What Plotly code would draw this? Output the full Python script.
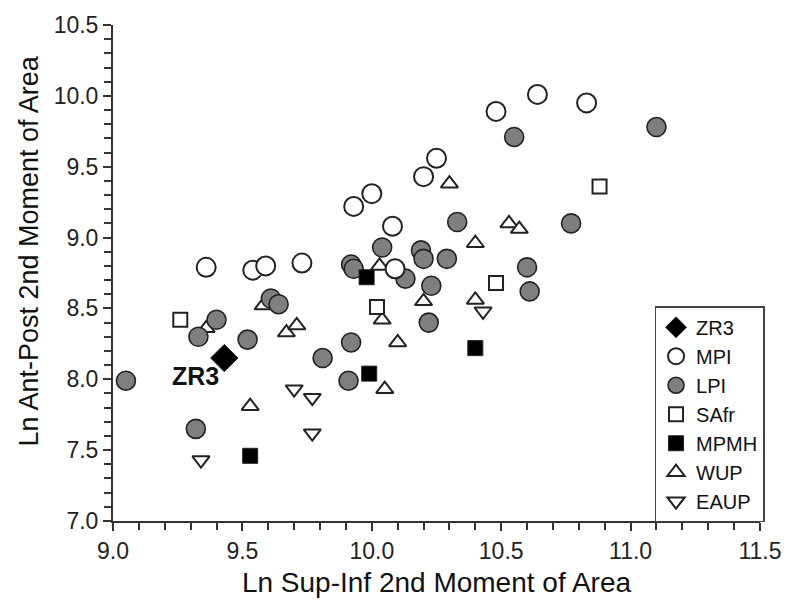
import plotly.graph_objects as go

# ---- data ----
zr3_x = [9.43]
zr3_y = [8.15]

mpi_x = [9.36, 9.54, 9.59, 9.73, 9.93, 10.00, 10.08, 10.09, 10.20, 10.25, 10.48, 10.64, 10.83]
mpi_y = [8.79, 8.77, 8.80, 8.82, 9.22, 9.31, 9.08, 8.78, 9.43, 9.56, 9.89, 10.01, 9.95]

lpi_x = [9.05, 9.32, 9.33, 9.40, 9.52, 9.61, 9.64, 9.81, 9.91, 9.92, 9.92, 9.93, 10.04,
         10.13, 10.19, 10.20, 10.22, 10.23, 10.29, 10.33, 10.55, 10.60, 10.61, 10.77, 11.10]
lpi_y = [7.99, 7.65, 8.30, 8.42, 8.28, 8.57, 8.53, 8.15, 7.99, 8.26, 8.81, 8.78, 8.93,
         8.71, 8.91, 8.85, 8.40, 8.66, 8.85, 9.11, 9.71, 8.79, 8.62, 9.10, 9.78]

safr_x = [9.26, 10.02, 10.48, 10.88]
safr_y = [8.42, 8.51, 8.68, 9.36]

mpmh_x = [9.53, 9.98, 9.99, 10.40]
mpmh_y = [7.46, 8.72, 8.04, 8.22]

wup_x = [9.36, 9.53, 9.58, 9.67, 9.71, 10.03, 10.04, 10.05, 10.10, 10.20, 10.30, 10.40, 10.40, 10.53, 10.57]
wup_y = [8.36, 7.81, 8.52, 8.33, 8.38, 8.80, 8.42, 7.93, 8.26, 8.55, 9.38, 8.96, 8.56, 9.10, 9.06]

eaup_x = [9.34, 9.70, 9.77, 9.77, 10.43]
eaup_y = [7.43, 7.93, 7.87, 7.62, 8.48]

x_title = "Ln Sup-Inf 2nd Moment of Area"
y_title = "Ln Ant-Post 2nd Moment of Area"

FONT = "Arial, Liberation Sans, sans-serif"
EDGE = "#222222"

fig = go.Figure()

def add(name, xs, ys, symbol, size, fill, lw, rank):
    fig.add_trace(go.Scatter(
        x=xs, y=ys, mode="markers", name=name, legendrank=rank,
        marker=dict(symbol=symbol, size=size, color=fill,
                    line=dict(color=EDGE, width=lw)),
        cliponaxis=False,
    ))

add("WUP", wup_x, wup_y, "triangle-up", 15, "white", 2, 6)
add("EAUP", eaup_x, eaup_y, "triangle-down", 15, "white", 2, 7)
add("SAfr", safr_x, safr_y, "square", 14, "white", 2, 4)
add("LPI", lpi_x, lpi_y, "circle", 19, "#7f7f7f", 1.6, 3)
add("MPI", mpi_x, mpi_y, "circle", 19, "white", 2, 2)
add("MPMH", mpmh_x, mpmh_y, "square", 15, "black", 1, 5)
add("ZR3", zr3_x, zr3_y, "diamond", 21, "black", 1, 1)

fig.add_annotation(x=zr3_x[0] - 0.013, y=zr3_y[0] - 0.125, text="<b>ZR3</b>",
                   showarrow=False, xanchor="right", yanchor="middle",
                   font=dict(family=FONT, size=25, color="#111111"))

# y-axis title placed as rotated text (sits slightly above the plot centre in the reference)
fig.add_annotation(xref="paper", yref="paper", x=-0.13, y=0.545, text=y_title,
                   textangle=-90, showarrow=False, xanchor="center", yanchor="middle",
                   font=dict(family=FONT, size=27, color="#111111"))

axis_common = dict(
    showgrid=False, zeroline=False, showline=True, linecolor="#333333", linewidth=2,
    ticks="outside", ticklen=8, tickwidth=1.5, tickcolor="#333333",
    tickfont=dict(family=FONT, size=23, color="#222222"),
    tickformat=".1f",
)

fig.update_layout(
    width=794, height=605,
    margin=dict(l=113, r=26, t=20, b=77),
    paper_bgcolor="white", plot_bgcolor="white",
    showlegend=True,
    legend=dict(x=0.837, y=0.433, xanchor="left", yanchor="top",
                bordercolor="#444444", borderwidth=1.5, bgcolor="white",
                font=dict(family=FONT, size=20, color="#111111"),
                traceorder="normal"),
    xaxis=dict(range=[9.0, 11.5], dtick=0.5, tick0=9.0,
               minor=dict(dtick=0.1, ticks="outside", ticklen=7, tickwidth=1.5, tickcolor="#333333"),
               title=dict(text=x_title, font=dict(family=FONT, size=28, color="#111111"), standoff=10),
               **axis_common),
    yaxis=dict(range=[7.0, 10.5], dtick=0.5, tick0=7.0,
               minor=dict(dtick=0.1, ticks="outside", ticklen=7, tickwidth=1.5, tickcolor="#333333"),
               **axis_common),
)

fig.write_html("out.html")
